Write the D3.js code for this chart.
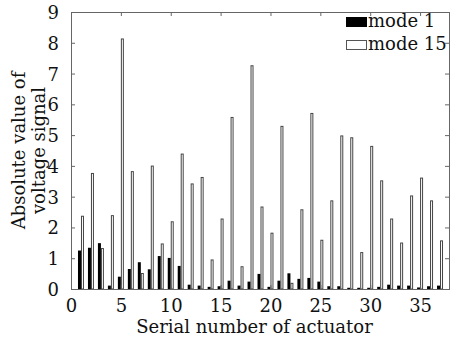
<!DOCTYPE html>
<html><head><meta charset="utf-8">
<script src="https://cdn.jsdelivr.net/npm/d3@7"></script>
<style>html,body{margin:0;padding:0;background:#fff;} svg{display:block;font-family:"DejaVu Serif",serif;}</style>
</head><body>
<script>
const actuators = d3.range(1, 38);
const mode1 = [1.25,1.34,1.49,0.11,0.40,0.65,0.87,0.64,1.07,1.01,0.75,0.14,0.11,0.07,0.09,0.27,0.11,0.24,0.49,0.07,0.27,0.51,0.33,0.36,0.24,0.09,0.09,0.04,0.04,0.04,0.07,0.14,0.11,0.11,0.05,0.09,0.11];
const mode15 = [2.38,3.77,1.33,2.40,8.14,3.83,0.52,4.01,1.48,2.20,4.40,3.43,3.64,0.96,2.29,5.59,0.74,7.27,2.68,1.83,5.30,0.20,2.59,5.72,1.60,2.88,4.99,4.93,1.20,4.65,3.53,2.29,1.51,3.04,3.62,2.88,1.58];
const xTicks = [0,5,10,15,20,25,30,35];
const yTicks = [0,1,2,3,4,5,6,7,8,9];
const seriesNames = ["mode 1","mode 15"];

const W = 451, H = 340;
const L = 71, R = 450, T = 12, B = 289;
const svg = d3.select("body").append("svg").attr("width", W).attr("height", H);
const x = d3.scaleLinear().domain([0, 38]).range([L, R]);
const y = d3.scaleLinear().domain([0, 9]).range([B, T]);
const bw = 0.3;

// bars
svg.append("g").selectAll("rect").data(actuators).join("rect")
  .attr("x", d => x(d - bw)).attr("width", x(bw) - x(0))
  .attr("y", (d,i) => y(mode1[i])).attr("height", (d,i) => y(0) - y(mode1[i]))
  .attr("fill", "#000");
svg.append("g").selectAll("rect").data(actuators).join("rect")
  .attr("x", d => x(d) + 0.5).attr("width", x(bw) - x(0) - 1)
  .attr("y", (d,i) => y(mode15[i]) + 0.5).attr("height", (d,i) => y(0) - y(mode15[i]) - 0.5)
  .attr("fill", "#fff").attr("stroke", "#444").attr("stroke-width", 1);

// frame
svg.append("rect").attr("x", L + 0.5).attr("y", T + 0.5).attr("width", R - L - 1).attr("height", B - T)
  .attr("fill", "none").attr("stroke", "#666").attr("stroke-width", 1);

// axes with inward ticks
const fs = 18;
const axB = svg.append("g").attr("transform", `translate(0,${B})`)
  .call(d3.axisBottom(x).tickValues(xTicks).tickSize(-4).tickPadding(10).tickFormat(d3.format("d")));
const axT = svg.append("g").attr("transform", `translate(0,${T})`)
  .call(d3.axisTop(x).tickValues(xTicks).tickSize(-4).tickFormat(""));
const axL = svg.append("g").attr("transform", `translate(${L},0)`)
  .call(d3.axisLeft(y).tickValues(yTicks).tickSize(-4).tickPadding(12).tickFormat(d3.format("d")));
const axR = svg.append("g").attr("transform", `translate(${R - 1},0)`)
  .call(d3.axisRight(y).tickValues(yTicks).tickSize(-4).tickFormat(""));
[axB, axT, axL, axR].forEach(a => {
  a.select(".domain").remove();
  a.selectAll(".tick line").attr("stroke", "#666");
  a.selectAll("text").attr("font-family", "DejaVu Serif").attr("font-size", fs).attr("fill", "#111");
});
axL.selectAll("text").attr("dy", "0.36em");

// axis titles
svg.append("text").attr("x", (L + R) / 2 - 6).attr("y", 333).attr("text-anchor", "middle")
  .attr("font-size", fs).attr("fill", "#111").text("Serial number of actuator");
const yl = svg.append("text").attr("transform", `translate(25,${(T + B) / 2}) rotate(-90)`)
  .attr("text-anchor", "middle").attr("font-size", fs).attr("fill", "#111");
yl.append("tspan").attr("x", 0).attr("dy", 0).text("Absolute value of");
yl.append("tspan").attr("x", 0).attr("dy", 20).text("voltage signal");

// legend
const lg = svg.append("g");
seriesNames.forEach((n, i) => {
  const yy = 17 + i * 23;
  lg.append("rect").attr("x", 346.5).attr("y", yy + 0.5).attr("width", 20).attr("height", 9)
    .attr("fill", i === 0 ? "#000" : "#fff").attr("stroke", i === 0 ? "#000" : "#555");
  lg.append("text").attr("x", 368).attr("y", yy + 10).attr("font-size", fs).attr("fill", "#111").text(n);
});
</script>
</body></html>
